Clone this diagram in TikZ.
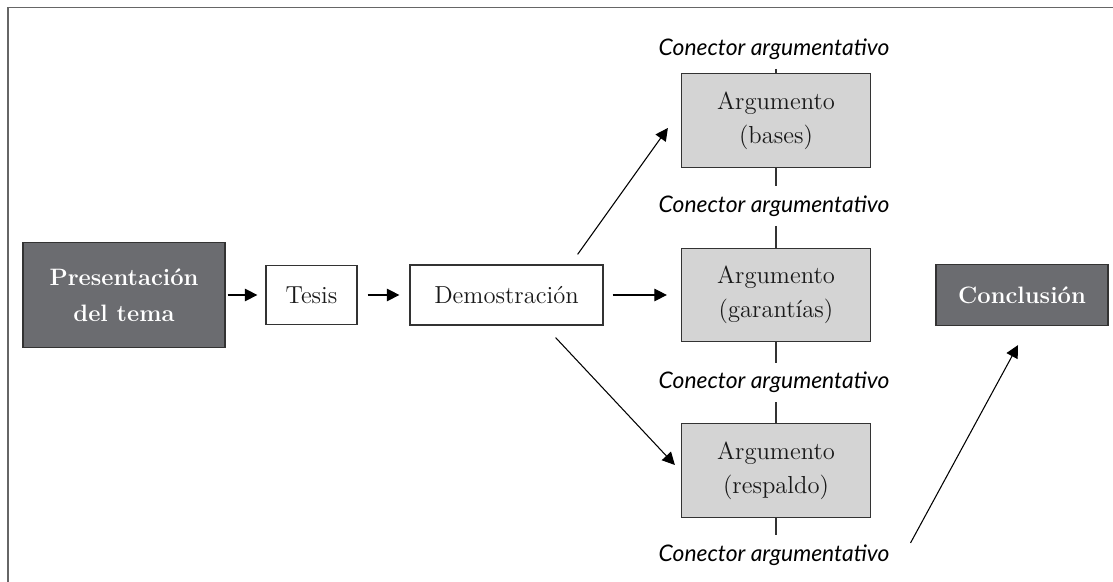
\documentclass[tikz,border=0pt]{standalone}
\usepackage{fontspec}
\usepackage{tikz}
\usetikzlibrary{arrows.meta}
\newfontfamily\conectorfont{Lato}

\definecolor{oscuro}{HTML}{6B6C70}
\definecolor{claro}{HTML}{D4D4D4}
\definecolor{borde}{HTML}{333333}

\begin{document}
\begin{tikzpicture}[
		caja/.style={draw=borde,line width=0.7pt,text=black!90,align=center,font=\fontsize{14}{19.5}\selectfont},
		tema/.style={caja,fill=oscuro,text=white,font=\fontsize{13.5}{20.5}\selectfont\bfseries},
		argumento/.style={caja,fill=claro,minimum width=3.78cm,minimum height=1.87cm},
		conector/.style={inner ysep=0pt,minimum height=0.78cm,font=\conectorfont\itshape\fontsize{13}{15}\selectfont},
		flecha/.style={line width=0.6pt,-{Triangle[length=0.25cm,width=0.25cm]}},
		linea/.style={draw=borde,line width=0.6pt}
	]
		\useasboundingbox (0,0) rectangle (22.26,11.64);
		\draw[gray!80!black,line width=1pt] (0.16,0) -- (0.16,11.49) -- (22.26,11.49);
		\node[tema,minimum width=4.04cm,minimum height=2.1cm] (pres) at (2.48,5.74) {Presentación\\del tema};
		\node[caja,minimum width=1.82cm,minimum height=1.18cm] (tesis) at (6.23,5.74) {Tesis};
		\node[caja,minimum width=3.86cm,minimum height=1.2cm] (demo) at (10.13,5.74) {Demostración};
		\node[tema,minimum width=3.44cm,minimum height=1.22cm] (concl) at (20.44,5.74) {Conclusión};
		\foreach \n/\y/\t in {1/9.23/bases,2/5.74/garantías,3/2.23/respaldo} {
			\node[argumento] (arg\n) at (15.52,\y) {Argumento\\(\t)};
		}
		\foreach \n/\y in {1/10.66,2/7.52,3/3.99,4/0.54} {
			\node[conector] (c\n) at (15.48,\y) {Conector argumentativo};
		}
		\foreach \n in {1,2,3} {
			\draw[linea] (c\n.south -| arg\n) -- (arg\n.north);
		}
		\foreach \n/\m in {1/2,2/3,3/4} {
			\draw[linea] (arg\n.south) -- (c\m.north -| arg\n);
		}
		\draw[flecha,shorten <=0.04cm,shorten >=0.16cm] (pres) -- (tesis);
		\draw[flecha,shorten <=0.2cm,shorten >=0.2cm] (tesis) -- (demo);
		\draw[flecha,shorten <=0.18cm,shorten >=0.28cm] (demo) -- (arg2);
		\draw[flecha] ([xshift=-0.52cm,yshift=0.2cm]demo.north east) -- ([xshift=-0.26cm,yshift=-0.15cm]arg1.west);
		\draw[flecha] ([xshift=-0.96cm,yshift=-0.24cm]demo.south east) -- ([xshift=-0.12cm,yshift=0.11cm]arg3.west);
		\draw[flecha] ([xshift=0.3cm,yshift=0.24cm]c4.east) -- ([xshift=-0.08cm,yshift=-0.38cm]concl.south);
\end{tikzpicture}
\end{document}
